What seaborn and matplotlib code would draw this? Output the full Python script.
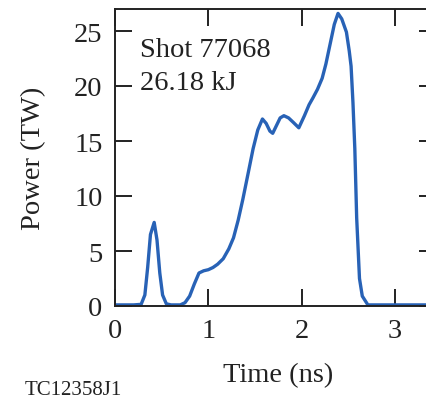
# Laser pulse shape for shot 77068: power vs time
import pandas as pd
import seaborn as sns
from matplotlib import pyplot as plt

time_ns = [0.0, 0.1, 0.2, 0.28, 0.32, 0.35, 0.38, 0.42, 0.45, 0.48, 0.51, 0.55,
           0.6, 0.7, 0.75, 0.8, 0.85, 0.9, 0.95, 1.0, 1.05, 1.1, 1.16, 1.22,
           1.27, 1.32, 1.37, 1.43, 1.48, 1.53, 1.58, 1.62, 1.66, 1.69, 1.73,
           1.77, 1.81, 1.86, 1.91, 1.97, 2.03, 2.08, 2.12, 2.17, 2.22, 2.26,
           2.31, 2.35, 2.39, 2.43, 2.48, 2.51, 2.53, 2.55, 2.57, 2.59, 2.62,
           2.65, 2.71, 2.8, 3.0, 3.2, 3.44]
power_tw = [0.1, 0.1, 0.1, 0.15, 1.0, 3.5, 6.5, 7.6, 6.0, 3.0, 1.0, 0.2,
            0.1, 0.1, 0.3, 0.9, 2.0, 3.0, 3.2, 3.3, 3.5, 3.8, 4.3, 5.2,
            6.2, 7.8, 9.7, 12.2, 14.3, 16.0, 17.0, 16.6, 15.9, 15.7, 16.4,
            17.1, 17.3, 17.1, 16.7, 16.2, 17.3, 18.3, 18.9, 19.7, 20.7, 22.0,
            24.0, 25.6, 26.6, 26.1, 24.9, 23.2, 21.8, 18.5, 14.3, 8.0, 2.5,
            0.9, 0.1, 0.1, 0.1, 0.1, 0.1]
x_ticks = [0, 1, 2, 3]
y_ticks = [0, 5, 10, 15, 20, 25]

pulse = pd.DataFrame({'time': time_ns, 'power': power_tw})

sns.set_style('ticks')
plt.rcParams['font.family'] = ['Liberation Serif', 'DejaVu Serif']

fig = plt.figure(figsize=(4.26, 4.02), dpi=100)
ax = fig.add_axes([115 / 426, 95 / 402, 321 / 426, 297 / 402])

sns.lineplot(data=pulse, x='time', y='power', ax=ax, color='#2862b6',
             linewidth=2.4, solid_joinstyle='round', solid_capstyle='round')

ax.set_xlim(0, 3.44)
ax.set_ylim(0, 27)
ax.set_xticks(x_ticks)
ax.set_yticks(y_ticks)
for side in ['top', 'right', 'left', 'bottom']:
    ax.spines[side].set_visible(True)
    ax.spines[side].set_linewidth(1.4)
    ax.spines[side].set_color('#222222')
ax.tick_params(direction='in', length=12, width=1.4, color='#222222',
               top=True, right=True, labelsize=20.5, labelcolor='#222222')
ax.tick_params(axis='y', pad=9)
ax.tick_params(axis='x', pad=9)

ax.set_xlabel('Time (ns)', fontsize=20.5, color='#222222')
ax.set_ylabel('Power (TW)', fontsize=20.5, color='#222222')
ax.xaxis.set_label_coords((278 - 115) / 321, -0.19)
ax.yaxis.set_label_coords(-0.215, 0.5)

ax.text(0.078, (307 - 57) / 297, 'Shot 77068', transform=ax.transAxes,
        fontsize=20.5, va='baseline', ha='left', color='#222222')
ax.text(0.078, (307 - 90) / 297, '26.18 kJ', transform=ax.transAxes,
        fontsize=20.5, va='baseline', ha='left', color='#222222')
fig.text(25 / 426, 1 - 391 / 402, 'TC12358J1', fontsize=15, va='center',
         ha='left', color='#222222')

fig.savefig('out.png', dpi=100)
